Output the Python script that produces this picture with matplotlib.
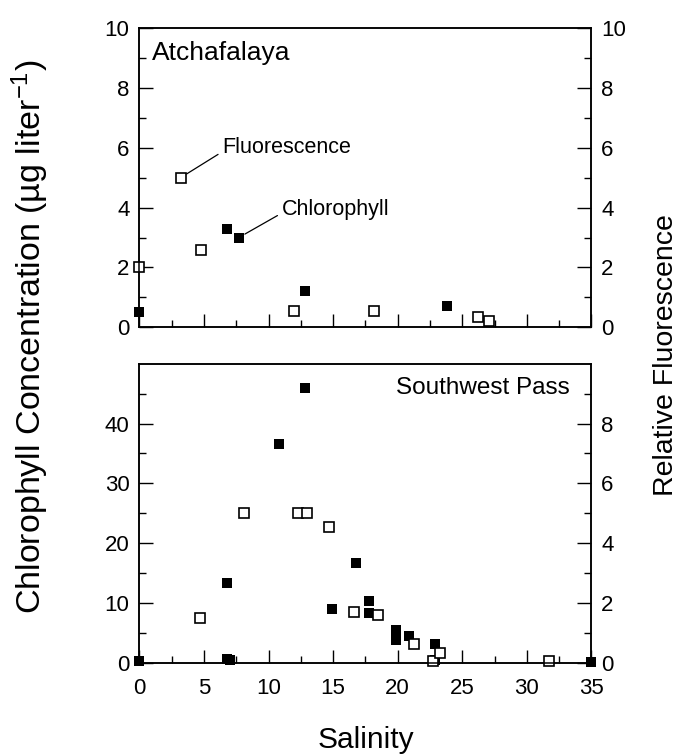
import matplotlib
matplotlib.use("Agg")
import matplotlib.pyplot as plt
from matplotlib.ticker import MultipleLocator, FixedLocator

plt.rcParams['font.family'] = ['Liberation Sans', 'DejaVu Sans']
plt.rcParams['mathtext.fontset'] = 'custom'
plt.rcParams['mathtext.rm'] = 'Liberation Sans'
plt.rcParams['mathtext.it'] = 'Liberation Sans'
plt.rcParams['mathtext.default'] = 'regular'

# Atchafalaya plume
atch_chl_sal = [0.0, 6.8, 7.7, 12.8, 23.8]
atch_chl = [0.5, 3.3, 3.0, 1.2, 0.7]
atch_flu_sal = [0.0, 3.2, 4.8, 12.0, 18.2, 26.2, 27.1]
atch_flu = [2.0, 5.0, 2.6, 0.55, 0.55, 0.33, 0.2]

# Southwest Pass plume
sw_chl_sal = [0.0, 6.8, 6.8, 7.05, 10.8, 12.8, 14.9, 16.8, 17.8, 17.8,
              19.9, 19.9, 19.9, 20.9, 22.9, 22.9, 35.0]
sw_chl = [0.4, 13.3, 0.7, 0.5, 36.5, 46.0, 9.0, 16.7, 10.4, 8.4,
          5.5, 4.6, 3.8, 4.5, 3.1, 0.5, 0.2]
sw_flu_sal = [4.7, 8.1, 12.3, 12.95, 14.7, 16.6, 18.5, 21.3, 22.7, 23.3, 31.7]
sw_flu = [1.5, 5.0, 5.0, 5.0, 4.55, 1.72, 1.62, 0.62, 0.06, 0.34, 0.08]

salinity_ticks = [0, 5, 10, 15, 20, 25, 30, 35]

TICK_FS = 16
MS = 7.5

fig = plt.figure(figsize=(6.83, 7.56), dpi=100)
left, width = 0.204, 0.662
ax_top = fig.add_axes([left, 0.567, width, 0.396])
ax_bot = fig.add_axes([left, 0.123, width, 0.396])


def style_axes(ax, tw):
    for a in (ax, tw):
        for s in a.spines.values():
            s.set_linewidth(1.1)
    ax.set_xlim(0, 35)
    ax.xaxis.set_major_locator(FixedLocator(salinity_ticks))
    ax.xaxis.set_minor_locator(MultipleLocator(2.5))
    ax.tick_params(axis='x', which='both', direction='in', top=False,
                   labelsize=TICK_FS, pad=11)
    ax.tick_params(axis='x', which='major', length=9.5, width=1.0)
    ax.tick_params(axis='x', which='minor', length=5, width=1.0)
    ax.tick_params(axis='y', which='both', direction='in', right=False,
                   labelsize=TICK_FS, pad=7)
    ax.tick_params(axis='y', which='major', length=10, width=1.0)
    ax.tick_params(axis='y', which='minor', length=5, width=1.0)
    tw.tick_params(axis='y', which='both', direction='in', left=False,
                   labelsize=TICK_FS, pad=7)
    tw.tick_params(axis='y', which='major', length=10, width=1.0)
    tw.tick_params(axis='y', which='minor', length=5, width=1.0)


chl_kw = dict(linestyle='none', marker='s', markersize=MS, color='black',
              markeredgewidth=0, clip_on=False)
flu_kw = dict(linestyle='none', marker='s', markersize=MS - 0.5,
              markerfacecolor='white', markeredgecolor='black',
              markeredgewidth=1.2, clip_on=False)

# ---- Atchafalaya panel ----
tw_top = ax_top.twinx()
style_axes(ax_top, tw_top)
ax_top.set_ylim(0, 10)
ax_top.yaxis.set_major_locator(MultipleLocator(2))
ax_top.yaxis.set_minor_locator(MultipleLocator(1))
tw_top.set_ylim(0, 10)
tw_top.yaxis.set_major_locator(MultipleLocator(2))
tw_top.yaxis.set_minor_locator(MultipleLocator(1))
ax_top.tick_params(axis='x', labelbottom=False)

ax_top.plot(atch_chl_sal, atch_chl, **chl_kw)
tw_top.plot(atch_flu_sal, atch_flu, **flu_kw)

ax_top.text(0.027, 0.917, 'Atchafalaya', transform=ax_top.transAxes,
            ha='left', va='center', fontsize=19)
tw_top.annotate('Fluorescence', xy=(atch_flu_sal[1], atch_flu[1]),
                xytext=(6.4, 6.0), fontsize=15.5, ha='left', va='center',
                arrowprops=dict(arrowstyle='-', lw=0.9, color='black',
                                shrinkA=1, shrinkB=5, relpos=(0, 0.3)))
ax_top.annotate('Chlorophyll', xy=(atch_chl_sal[2], atch_chl[2]),
                xytext=(11.0, 3.95), fontsize=15.5, ha='left', va='center',
                arrowprops=dict(arrowstyle='-', lw=0.9, color='black',
                                shrinkA=1, shrinkB=5, relpos=(0, 0.3)))

# ---- Southwest Pass panel ----
tw_bot = ax_bot.twinx()
style_axes(ax_bot, tw_bot)
ax_bot.set_ylim(0, 50)
ax_bot.yaxis.set_major_locator(FixedLocator([0, 10, 20, 30, 40]))
ax_bot.yaxis.set_minor_locator(FixedLocator([5, 15, 25, 35, 45]))
tw_bot.set_ylim(0, 10)
tw_bot.yaxis.set_major_locator(FixedLocator([0, 2, 4, 6, 8]))
tw_bot.yaxis.set_minor_locator(FixedLocator([1, 3, 5, 7, 9]))

ax_bot.plot(sw_chl_sal, sw_chl, **chl_kw)
tw_bot.plot(sw_flu_sal, sw_flu, **flu_kw)

ax_bot.text(0.952, 0.919, 'Southwest Pass', transform=ax_bot.transAxes,
            ha='right', va='center', fontsize=17.5)

# ---- shared axis titles ----
fig.text(0.045, 0.555, 'Chlorophyll Concentration (µg liter$^{-1}$)',
         rotation=90, ha='center', va='center', fontsize=24.5)
fig.text(0.975, 0.530, 'Relative Fluorescence', rotation=90,
         ha='center', va='center', fontsize=20.5)
fig.text(0.536, 0.021, 'Salinity', ha='center', va='center', fontsize=21.5)

fig.savefig('out.png', dpi=100)
